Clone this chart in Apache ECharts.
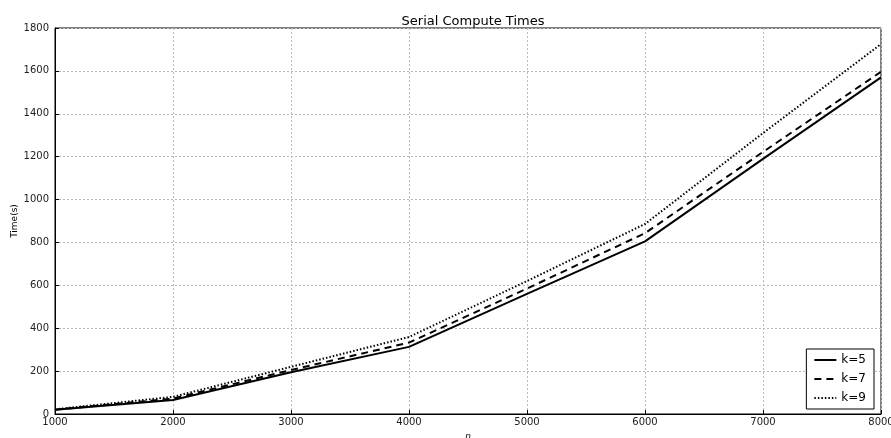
<!DOCTYPE html>
<html><head><meta charset="utf-8">
<script src="https://cdn.jsdelivr.net/npm/echarts@6/dist/echarts.min.js"></script>
<style>html,body{margin:0;padding:0;background:#fff}#c{width:891px;height:438px}</style>
</head><body><div id="c"></div>
<script>
const nValues = [1000, 2000, 3000, 4000, 5000, 6000, 7000, 8000];
const k5 = [20, 65, 195, 313, 560, 805, 1190, 1570];
const k7 = [20, 72, 205, 333, 585, 843, 1222, 1596];
const k9 = [22, 80, 220, 359, 620, 886, 1310, 1725];
const seriesNames = ['k=5', 'k=7', 'k=9'];

const chart = echarts.init(document.getElementById('c'), null, {renderer: 'canvas'});
const font = 'DejaVu Sans';
function pairs(arr) { return nValues.map((n, i) => [n, arr[i]]); }
const lineTypes = ['solid', [7, 5], [1.5, 2]];
chart.setOption({
  animation: false,
  backgroundColor: '#fff',
  title: {text: 'Serial Compute Times', left: 468, top: 10, textAlign: 'center',
    textStyle: {fontFamily: font, fontSize: 13, fontWeight: 'normal', color: '#000'}},
  grid: {left: 55, right: 10, top: 28, bottom: 24, show: true, borderColor: '#000', borderWidth: 1,
    outerBoundsMode: 'none', containLabel: false},
  legend: {
    orient: 'vertical', right: 17, bottom: 29, itemWidth: 22, itemHeight: 10, itemGap: 7,
    borderColor: '#000', borderWidth: 1, padding: [5, 8, 5, 7], backgroundColor: '#fff',
    textStyle: {fontFamily: font, fontSize: 12, color: '#000'},
    itemStyle: {color: 'transparent', borderWidth: 0},
    data: seriesNames
  },
  xAxis: {
    type: 'value', min: 1000, max: 8000, interval: 1000,
    name: 'n', nameLocation: 'middle', nameGap: 18, nameMoveOverlap: false,
    nameTextStyle: {fontFamily: font, fontSize: 9, fontStyle: 'italic', color: '#000'},
    axisLine: {show: true, lineStyle: {color: '#000'}},
    axisTick: {inside: true, length: 4, lineStyle: {color: '#000'}},
    axisLabel: {fontFamily: font, fontSize: 10, color: '#222', margin: 3, formatter: v => String(v)},
    splitLine: {show: true, lineStyle: {color: '#bbb', type: [2, 2]}}
  },
  yAxis: {
    type: 'value', min: 0, max: 1800, interval: 200,
    name: 'Time(s)', nameLocation: 'middle', nameGap: 36, nameRotate: 90, nameMoveOverlap: false,
    nameTextStyle: {fontFamily: font, fontSize: 9, color: '#000'},
    axisLine: {show: true, lineStyle: {color: '#000'}},
    axisTick: {inside: true, length: 4, lineStyle: {color: '#000'}},
    axisLabel: {fontFamily: font, fontSize: 10, color: '#222', margin: 6, formatter: v => String(v)},
    splitLine: {show: true, lineStyle: {color: '#bbb', type: [2, 2]}}
  },
  series: [k5, k7, k9].map((d, i) => ({
    name: seriesNames[i], type: 'line', data: pairs(d), symbol: 'none', showSymbol: false,
    lineStyle: {color: '#000', width: 2, type: lineTypes[i]},
    itemStyle: {color: '#000'}
  }))
});
</script></body></html>
